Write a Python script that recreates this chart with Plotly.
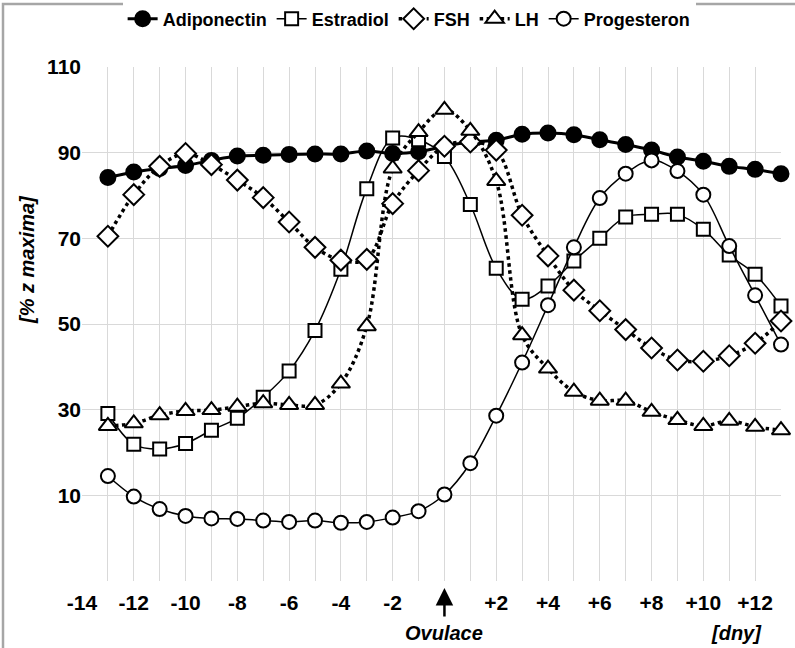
import plotly.graph_objects as go

days = list(range(-13, 14))
adiponectin = [84.2, 85.5, 86.3, 87.0, 88.2, 89.2, 89.4, 89.6, 89.7, 89.7, 90.4, 89.8, 90.2,
               91.5, 92.5, 92.9, 94.3, 94.6, 94.2, 93.0, 91.9, 90.6, 89.0, 88.0, 86.8, 86.1, 85.1]
estradiol = [29.1, 21.9, 20.8, 22.1, 25.2, 28.0, 32.9, 39.0, 48.5, 62.8, 81.6, 93.4, 93.0,
             89.1, 77.9, 63.0, 55.8, 58.9, 64.7, 70.0, 75.0, 75.6, 75.6, 72.1, 66.1, 61.6, 54.2]
fsh = [70.5, 80.2, 86.8, 89.8, 87.2, 83.6, 79.5, 73.8, 67.9, 64.9, 65.1, 78.1, 85.8,
       91.5, 92.5, 90.6, 75.4, 65.9, 57.9, 53.1, 48.7, 44.4, 41.6, 41.3, 42.6, 45.5, 50.7]
lh = [26.2, 26.8, 28.7, 29.7, 29.9, 30.7, 31.5, 31.1, 31.1, 36.1, 49.5, 86.3, 94.8,
      100.0, 95.1, 83.4, 47.4, 39.6, 34.2, 32.1, 32.1, 29.5, 27.6, 26.2, 27.4, 26.0, 25.2]
progesteron = [14.5, 9.7, 6.8, 5.2, 4.6, 4.5, 4.1, 3.8, 4.1, 3.6, 3.8, 4.8, 6.3,
               10.2, 17.5, 28.6, 41.0, 54.4, 67.9, 79.4, 85.1, 88.2, 85.7, 80.2, 68.2, 56.7, 45.2]

x_tickvals = list(range(-14, 13, 2))
x_ticktext = ["" if v == 0 else ("+%d" % v if v > 0 else "%d" % v) for v in x_tickvals]
y_tickvals = [-10, 10, 30, 50, 70, 90, 110]
y_ticktext = ["", "10", "30", "50", "70", "90", "110"]

FONT = "Liberation Sans Narrow, Arial Narrow, Liberation Sans, Arial, sans-serif"
GRID = "#d9d9d9"

fig = go.Figure()

def add(name, ys, symbol, fill, lw, dash, size):
    fig.add_trace(go.Scatter(
        x=days, y=ys, name=name, mode="lines+markers", cliponaxis=False,
        line=dict(color="black", width=lw, dash=dash, shape="spline", smoothing=1.0),
        marker=dict(symbol=symbol, size=size, color=fill,
                    line=dict(color="black", width=2)),
    ))

add("Adiponectin", adiponectin, "circle", "black", 3, "solid", 15)
add("Estradiol", estradiol, "square", "white", 1.5, "solid", 13)
add("FSH", fsh, "diamond", "white", 3.5, "dot", 16)
add("LH", lh, "triangle-up", "white", 3.5, "dot", 16)
add("Progesteron", progesteron, "circle", "white", 1.5, "solid", 14)

H = 648.0
def py(px):
    return (581 - px) / 514.0

fig.update_layout(
    width=795, height=648,
    margin=dict(l=82, r=14, t=67, b=67),
    paper_bgcolor="white", plot_bgcolor="white",
    font=dict(family=FONT, size=18, color="black", weight="bold"),
    showlegend=True,
    legend=dict(orientation="h", x=0.468, xanchor="center",
                y=1 - 19 / H, yanchor="middle", yref="container",
                font=dict(family=FONT, size=18, weight="bold"),
                itemwidth=30, tracegroupgap=0),
    xaxis=dict(range=[-14, 13], tickmode="array", tickvals=x_tickvals, ticktext=x_ticktext,
               showgrid=True, gridcolor=GRID, gridwidth=1, zeroline=False,
               showline=False, ticks="outside", ticklen=3, tickcolor="rgba(0,0,0,0)",
               tickfont=dict(family=FONT, size=21, weight="bold"),
               minor=dict(tickmode="linear", tick0=-14, dtick=1, showgrid=True,
                          gridcolor=GRID, gridwidth=1)),
    yaxis=dict(range=[-10, 110], tickmode="array", tickvals=y_tickvals, ticktext=y_ticktext,
               showgrid=True, gridcolor=GRID, gridwidth=1, zeroline=False,
               showline=False, ticks="",
               tickfont=dict(family=FONT, size=21, weight="bold")),
)

# outer border
fig.add_shape(type="rect", xref="paper", yref="paper",
              x0=(3 - 82) / 699, x1=(800 - 82) / 699,
              y0=py(660), y1=py(4),
              line=dict(color="#a6a6a6", width=2.5), fillcolor="rgba(0,0,0,0)", layer="below")

# ovulation arrow and labels
fig.add_annotation(x=0, y=py(588), xref="x", yref="paper", text="",
                   showarrow=True, arrowhead=2, arrowsize=1.4, arrowwidth=2.5,
                   arrowcolor="black", ax=0, ay=30)
fig.add_annotation(x=0, y=py(633), xref="x", yref="paper", text="<i>Ovulace</i>",
                   xanchor="center", yanchor="middle",
                   showarrow=False, font=dict(family=FONT, size=20, weight="bold"))
fig.add_annotation(x=11.3, y=py(633), xref="x", yref="paper", text="<i>[dny]</i>",
                   xanchor="center", yanchor="middle",
                   showarrow=False, font=dict(family=FONT, size=20, weight="bold"))
fig.add_annotation(x=(27 - 82) / 699, y=py(260), xref="paper", yref="paper",
                   xanchor="center", yanchor="middle",
                   text="<i>[% z maxima]</i>", textangle=-90, showarrow=False,
                   font=dict(family=FONT, size=20, weight="bold"))

fig.write_html("out.html")
